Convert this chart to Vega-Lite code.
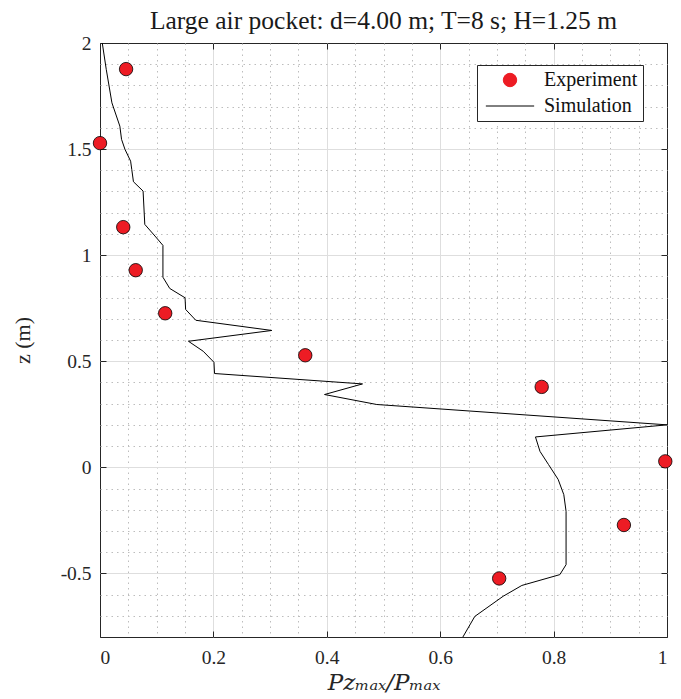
{
  "$schema": "https://vega.github.io/schema/vega-lite/v6.json",
  "width": 567,
  "height": 594,
  "autosize": {"type": "none"},
  "padding": {"left": 100, "top": 43, "right": 14, "bottom": 62},
  "background": "white",
  "title": {
    "text": "Large air pocket: d=4.00 m; T=8 s; H=1.25 m",
    "font": "Liberation Serif",
    "fontSize": 25.5,
    "fontWeight": "normal",
    "color": "#1a1a1a",
    "anchor": "middle",
    "offset": -1
  },
  "datasets": {
    "sim": [
      {"p": 0.004, "z": 2.0, "series": "Simulation"},
      {"p": 0.011, "z": 1.876, "series": "Simulation"},
      {"p": 0.021, "z": 1.718, "series": "Simulation"},
      {"p": 0.035, "z": 1.608, "series": "Simulation"},
      {"p": 0.038, "z": 1.546, "series": "Simulation"},
      {"p": 0.044, "z": 1.499, "series": "Simulation"},
      {"p": 0.054, "z": 1.443, "series": "Simulation"},
      {"p": 0.056, "z": 1.404, "series": "Simulation"},
      {"p": 0.059, "z": 1.346, "series": "Simulation"},
      {"p": 0.076, "z": 1.302, "series": "Simulation"},
      {"p": 0.079, "z": 1.145, "series": "Simulation"},
      {"p": 0.097, "z": 1.09, "series": "Simulation"},
      {"p": 0.111, "z": 1.046, "series": "Simulation"},
      {"p": 0.111, "z": 0.896, "series": "Simulation"},
      {"p": 0.123, "z": 0.843, "series": "Simulation"},
      {"p": 0.15, "z": 0.799, "series": "Simulation"},
      {"p": 0.151, "z": 0.744, "series": "Simulation"},
      {"p": 0.169, "z": 0.693, "series": "Simulation"},
      {"p": 0.303, "z": 0.645, "series": "Simulation"},
      {"p": 0.156, "z": 0.594, "series": "Simulation"},
      {"p": 0.182, "z": 0.547, "series": "Simulation"},
      {"p": 0.201, "z": 0.495, "series": "Simulation"},
      {"p": 0.202, "z": 0.442, "series": "Simulation"},
      {"p": 0.463, "z": 0.393, "series": "Simulation"},
      {"p": 0.396, "z": 0.343, "series": "Simulation"},
      {"p": 0.488, "z": 0.296, "series": "Simulation"},
      {"p": 1.0, "z": 0.2, "series": "Simulation"},
      {"p": 0.768, "z": 0.143, "series": "Simulation"},
      {"p": 0.776, "z": 0.075, "series": "Simulation"},
      {"p": 0.791, "z": 0.013, "series": "Simulation"},
      {"p": 0.808, "z": -0.057, "series": "Simulation"},
      {"p": 0.818, "z": -0.129, "series": "Simulation"},
      {"p": 0.822, "z": -0.208, "series": "Simulation"},
      {"p": 0.822, "z": -0.459, "series": "Simulation"},
      {"p": 0.811, "z": -0.506, "series": "Simulation"},
      {"p": 0.744, "z": -0.557, "series": "Simulation"},
      {"p": 0.711, "z": -0.608, "series": "Simulation"},
      {"p": 0.661, "z": -0.703, "series": "Simulation"},
      {"p": 0.64, "z": -0.8, "series": "Simulation"}
    ],
    "exp": [
      {"p": 0.046, "z": 1.877, "series": "Experiment"},
      {"p": 0.0, "z": 1.528, "series": "Experiment"},
      {"p": 0.041, "z": 1.132, "series": "Experiment"},
      {"p": 0.063, "z": 0.929, "series": "Experiment"},
      {"p": 0.115, "z": 0.726, "series": "Experiment"},
      {"p": 0.362, "z": 0.528, "series": "Experiment"},
      {"p": 0.779, "z": 0.379, "series": "Experiment"},
      {"p": 0.997, "z": 0.028, "series": "Experiment"},
      {"p": 0.924, "z": -0.272, "series": "Experiment"},
      {"p": 0.704, "z": -0.524, "series": "Experiment"}
    ]
  },
  "layer": [
    {
      "data": {"name": "sim"},
      "mark": {"type": "line", "strokeWidth": 1, "clip": false},
      "encoding": {
        "x": {
          "field": "p", "type": "quantitative",
          "scale": {"domain": [0, 1], "nice": false, "zero": false},
          "axis": {
            "orient": "bottom",
            "values": [0.05, 0.1, 0.15, 0.2, 0.25, 0.3, 0.35, 0.4, 0.45, 0.5, 0.55, 0.6, 0.65, 0.7, 0.75, 0.8, 0.85, 0.9, 0.95],
            "grid": true, "gridColor": "#bdbdbd", "gridDash": [1.5, 4], "gridWidth": 1,
            "labels": false, "ticks": false, "domain": false, "title": null
          }
        },
        "y": {
          "field": "z", "type": "quantitative",
          "scale": {"domain": [-0.8, 2], "nice": false, "zero": false},
          "axis": {
            "orient": "left",
            "values": [-0.7, -0.6, -0.5, -0.4, -0.3, -0.2, -0.1, 0, 0.1, 0.2, 0.3, 0.4, 0.5, 0.6, 0.7, 0.8, 0.9, 1, 1.1, 1.2, 1.3, 1.4, 1.5, 1.6, 1.7, 1.8, 1.9],
            "grid": true, "gridColor": "#bdbdbd", "gridDash": [1.5, 4], "gridWidth": 1,
            "labels": false, "ticks": false, "domain": false, "title": null
          }
        },
        "order": {"field": "z", "sort": "descending"},
        "color": {
          "field": "series", "type": "nominal",
          "scale": {"domain": ["Experiment", "Simulation"], "range": ["#ed1c24", "#000000"]},
          "legend": {
            "title": null,
            "orient": "none",
            "legendX": 377,
            "legendY": 22,
            "fillColor": "white",
            "strokeColor": "#262626",
            "padding": 5,
            "labelFont": "Liberation Serif",
            "labelFontSize": 20,
            "labelColor": "#111111",
            "labelExpr": "datum.label + '\u00a0\u00a0'",
            "symbolSize": 180,
            "symbolOffset": 18,
            "labelOffset": 24,
            "rowPadding": 6,
            "encode": {
              "symbols": {
                "update": {
                  "shape": {"signal": "datum.value === 'Simulation' ? 'M-3.6,0L3.6,0' : 'circle'"},
                  "stroke": {"value": "black"},
                  "strokeWidth": {"value": 1},
                  "fill": {"signal": "datum.value === 'Simulation' ? 'transparent' : '#ed1c24'"},
                  "opacity": {"value": 1},
                  "fillOpacity": {"value": 1}
                }
              }
            }
          }
        }
      }
    },
    {
      "data": {"name": "exp"},
      "mark": {"type": "point", "filled": true, "size": 180, "stroke": "black", "strokeWidth": 0.8, "opacity": 1, "clip": false},
      "encoding": {
        "x": {
          "field": "p", "type": "quantitative",
          "axis": {
            "orient": "bottom",
            "values": [0, 0.2, 0.4, 0.6, 0.8, 1],
            "grid": true, "gridColor": "#dedede", "gridWidth": 1,
            "gridOpacity": {"condition": {"test": "datum.value === 0 || datum.value === 1", "value": 0}, "value": 1},
            "domain": false, "ticks": true, "tickSize": -6, "tickColor": "#262626",
            "labelFont": "Liberation Serif", "labelFontSize": 19.5, "labelColor": "#262626",
            "labelPadding": 17, "labelExpr": "'' + datum.value",
            "title": "Pzₘₐₓ/Pₘₐₓ", "titleFont": "DejaVu Serif", "titleFontStyle": "italic",
            "titleFontSize": 23, "titleFontWeight": "normal", "titleColor": "#262626", "titlePadding": 5
          }
        },
        "y": {
          "field": "z", "type": "quantitative",
          "axis": {
            "orient": "left",
            "values": [-0.5, 0, 0.5, 1, 1.5, 2],
            "grid": true, "gridColor": "#dedede", "gridWidth": 1,
            "gridOpacity": {"condition": {"test": "datum.value === 2", "value": 0}, "value": 1},
            "domain": false, "ticks": true, "tickSize": -6, "tickColor": "#262626",
            "labelFont": "Liberation Serif", "labelFontSize": 19.5, "labelColor": "#262626",
            "labelPadding": 15, "labelExpr": "'' + datum.value",
            "title": "z (m)", "titleFont": "Liberation Serif",
            "titleFontSize": 22, "titleFontWeight": "normal", "titleColor": "#262626", "titlePadding": 26
          }
        },
        "color": {"field": "series", "type": "nominal"}
      }
    },
    {
      "data": {"name": "exp"},
      "mark": {"type": "point", "opacity": 0},
      "encoding": {
        "x": {
          "field": "p", "type": "quantitative",
          "axis": {
            "orient": "top", "values": [0, 0.2, 0.4, 0.6, 0.8, 1],
            "grid": false, "domain": false, "labels": false, "ticks": true,
            "tickSize": -6, "tickColor": "#262626", "title": null
          }
        },
        "y": {
          "field": "z", "type": "quantitative",
          "axis": {
            "orient": "right", "values": [-0.5, 0, 0.5, 1, 1.5, 2],
            "grid": false, "domain": false, "labels": false, "ticks": true,
            "tickSize": -6, "tickColor": "#262626", "title": null
          }
        }
      }
    }
  ],
  "resolve": {"axis": {"x": "independent", "y": "independent"}},
  "config": {
    "view": {"stroke": "#262626", "strokeWidth": 1},
    "font": "Liberation Serif"
  }
}
